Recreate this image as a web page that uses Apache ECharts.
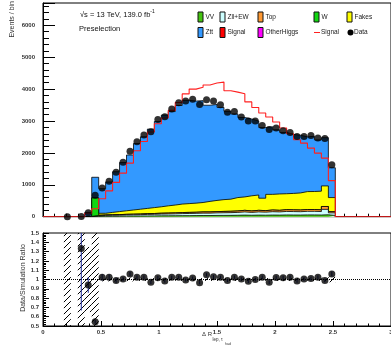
<!DOCTYPE html>
<html>
<head>
<meta charset="utf-8">
<script src="https://cdn.jsdelivr.net/npm/echarts@6/dist/echarts.min.js"></script>
<style>
  html, body { margin: 0; padding: 0; background: #fff; }
  #chart { width: 391px; height: 351px; }
</style>
</head>
<body>
<div id="chart"></div>
<script>
// binning of Delta R (lep, tau_had): 0.06 wide bins, first listed bin is 0.18-0.24
const binLow = 0.18;
const binWidth = 0.06;

// events per bin, bins 0.21 ... 2.49 (centres)
const dataCounts = [0, null, 4, 126, 675, 900, 1115, 1396, 1705, 2050,
  2350, 2565, 2664, 3045, 3135, 3375, 3570, 3630, 3680, 3515,
  3670, 3625, 3510, 3271, 3300, 3126, 3000, 3000, 2862, 2736,
  2780, 2695, 2642, 2516, 2516, 2547, 2466, 2453, 1626];

const vvCounts = [1, 0, 1, 3, 12, 14, 15, 16, 18, 20,
  21, 23, 25, 27, 28, 30, 32, 33, 35, 37,
  37, 40, 41, 42, 45, 50, 45, 50, 47, 52,
  50, 55, 53, 52, 56, 56, 53, 60, 40];
const zllCounts = [1, 0, 1, 3, 10, 27, 30, 33, 38, 40,
  43, 48, 50, 55, 58, 60, 65, 68, 70, 75,
  75, 80, 83, 85, 90, 100, 90, 100, 95, 105,
  100, 110, 108, 105, 112, 112, 108, 170, 80];
const topCounts = [0, 0, 0, 2, 8, 14, 15, 16, 19, 20,
  21, 24, 25, 28, 29, 30, 33, 34, 35, 38,
  38, 40, 41, 43, 45, 50, 45, 50, 48, 53,
  50, 55, 54, 53, 57, 57, 54, 90, 40];
const wCounts = [0, 0, 0, 0, 560, 0, 0, 0, 0, 0,
  0, 0, 0, 0, 0, 0, 0, 0, 0, 0,
  0, 0, 0, 0, 0, 0, 0, 0, 0, 0,
  0, 0, 0, 0, 0, 0, 0, 0, 0];
const fakesCounts = [0, 0, 0, 2, 0, 52, 75, 95, 110, 130,
  150, 165, 185, 200, 225, 245, 265, 275, 285, 295,
  330, 350, 370, 380, 420, 420, 475, 480, 390, 490,
  513, 500, 515, 535, 562, 565, 585, 645, 440];
const zttCounts = [1, 0, 1, 124, 646, 772, 954, 1250, 1512, 1724,
  2060, 2245, 2461, 2675, 2846, 2931, 3091, 3238, 3201, 3194,
  3015, 3009, 2893, 2754, 2623, 2490, 2406, 2320, 2215, 2121,
  2012, 1922, 1850, 1809, 1716, 1732, 1608, 1513, 934];

// signal (unstacked red line)
const signalCounts = [0, 0, 0, 107, 250, 565, 810, 1075, 1365, 1680,
  2066, 2359, 2654, 2915, 3095, 3334, 3580, 3850, 4000, 4060,
  4130, 4190, 4220, 3950, 3905, 3855, 3600, 3425, 3252, 3126,
  2969, 2780, 2601, 2412, 2308, 2151, 1994, 1837, 1132];

// relative MC stat uncertainty (hatched band in the ratio)
const mcRelErr = [1, 0, 1, 0.35, 1, 0.02, 0.02, 0.02, 0.015, 0.02,
  0.015, 0.015, 0.015, 0.015, 0.015, 0.015, 0.015, 0.015, 0.015, 0.015,
  0.015, 0.015, 0.015, 0.015, 0.015, 0.015, 0.015, 0.015, 0.015, 0.015,
  0.015, 0.015, 0.015, 0.015, 0.015, 0.015, 0.015, 0.02, 0.03];

const yTicksMain = { min: 0, max: 6700, interval: 1000 };
const yTicksRatio = { min: 0.5, max: 1.5, interval: 0.1 };

const FONT = '"Liberation Sans", Arial, Helvetica, sans-serif';

// stack from bottom to top
const stackDefs = [
  { name: 'VV', values: vvCounts, color: '#44c411' },
  { name: 'Zll+EW', values: zllCounts, color: '#ccffff' },
  { name: 'Top', values: topCounts, color: '#ff9933' },
  { name: 'W', values: wCounts, color: '#11d611' },
  { name: 'Fakes', values: fakesCounts, color: '#ffff00' },
  { name: 'Ztt', values: zttCounts, color: '#3399ff' }
];

const nBins = dataCounts.length;
const edge = i => +(binLow + i * binWidth).toFixed(4);
const centre = i => +(binLow + (i + 0.5) * binWidth).toFixed(4);

// cumulative sums, as THStack draws them
let running = new Array(nBins).fill(0);
const cumulative = stackDefs.map(s => (running = running.map((v, i) => v + s.values[i])));
const totalMC = cumulative[cumulative.length - 1];

// histogram outline points (drawn with step: 'end')
function stepPoints(vals, fromX, toX) {
  const pts = [[fromX !== undefined ? fromX : edge(0), 0]];
  vals.forEach((v, i) => pts.push([edge(i), v]));
  pts.push([edge(nBins), vals[nBins - 1]]);
  pts.push([edge(nBins), 0]);
  if (toX !== undefined) pts.push([toX, 0]);
  return pts;
}

const dataPoints = [];
const ratioPoints = [];
const ratioErrors = [];
const bandRects = [];
dataCounts.forEach((d, i) => {
  if (d !== null) dataPoints.push([centre(i), d]);
  if (d !== null && totalMC[i] > 0) {
    const r = d / totalMC[i];
    ratioPoints.push([centre(i), r]);
    const e = Math.sqrt(d) / totalMC[i];
    ratioErrors.push([centre(i), r - e, r + e]);
  }
  if (totalMC[i] > 0 && mcRelErr[i] > 0) {
    bandRects.push([edge(i), edge(i + 1), 1 - mcRelErr[i], 1 + mcRelErr[i]]);
  }
});

// diagonal hatch for the uncertainty band
function makeHatch() {
  const c = document.createElement('canvas');
  c.width = 6; c.height = 6;
  const g = c.getContext('2d');
  g.strokeStyle = '#000';
  g.lineWidth = 1;
  g.beginPath();
  g.moveTo(0, 6); g.lineTo(6, 0);
  g.moveTo(-1, 1); g.lineTo(1, -1);
  g.moveTo(5, 7); g.lineTo(7, 5);
  g.stroke();
  return c;
}
const hatch = { image: makeHatch(), repeat: 'repeat' };

const chart = echarts.init(document.getElementById('chart'));

const stackSeries = stackDefs.map((s, k) => ({
  name: s.name,
  type: 'line',
  xAxisIndex: 0,
  yAxisIndex: 0,
  step: 'end',
  symbol: 'none',
  silent: true,
  animation: false,
  z: 2 + (stackDefs.length - k),
  data: stepPoints(cumulative[k]),
  lineStyle: { color: '#000', width: 0.8 },
  areaStyle: { color: s.color, opacity: 1 }
})).reverse();

const axisText = { fontFamily: FONT, fontSize: 6, color: '#333', fontWeight: 'bold' };

const legendRows = [
  [
    { name: 'VV', color: '#44c411', x: 198 },
    { name: 'Zll+EW', color: '#ccffff', x: 220 },
    { name: 'Top', color: '#ff9933', x: 258 },
    { name: 'W', color: '#11d611', x: 314 },
    { name: 'Fakes', color: '#ffff00', x: 347 }
  ],
  [
    { name: 'Ztt', color: '#3399ff', x: 198 },
    { name: 'Signal', color: '#ff0000', x: 220 },
    { name: 'OtherHiggs', color: '#ff00ff', x: 258 }
  ]
];
const legendY = [12, 27.5];

const graphics = [];
legendRows.forEach((row, r) => {
  row.forEach(item => {
    graphics.push({
      type: 'rect', x: item.x, y: legendY[r], shape: { x: 0, y: 0, width: 5, height: 10 },
      style: { fill: item.color, stroke: '#111', lineWidth: 1 }
    });
    graphics.push({
      type: 'text', x: item.x + 7.5, y: legendY[r] + 5,
      style: { text: item.name, fontFamily: FONT, fontSize: 6.5, fill: '#222', align: 'left', verticalAlign: 'middle' }
    });
  });
});
graphics.push(
  { type: 'line', shape: { x1: 314, y1: 32.5, x2: 320, y2: 32.5 }, style: { stroke: '#ff2020', lineWidth: 1 } },
  { type: 'text', x: 321, y: 32.5, style: { text: 'Signal', fontFamily: FONT, fontSize: 6.5, fill: '#222', verticalAlign: 'middle' } },
  { type: 'circle', shape: { cx: 350.5, cy: 32.5, r: 3 }, style: { fill: '#000' } },
  { type: 'text', x: 354, y: 32.5, style: { text: 'Data', fontFamily: FONT, fontSize: 6.5, fill: '#222', verticalAlign: 'middle' } },
  {
    type: 'text', x: 80, y: 14,
    style: {
      text: '{a|√s = 13 TeV, 139.0 fb}{s|-1}',
      verticalAlign: 'middle',
      rich: {
        a: { fontFamily: FONT, fontSize: 7.5, fill: '#111', lineHeight: 10, verticalAlign: 'bottom' },
        s: { fontFamily: FONT, fontSize: 5, fill: '#111', lineHeight: 10, verticalAlign: 'top' }
      }
    }
  },
  { type: 'text', x: 79, y: 29, style: { text: 'Preselection', fontFamily: FONT, fontSize: 7.5, fill: '#111', verticalAlign: 'middle' } },
  { type: 'text', x: 12, y: 1, rotation: Math.PI / 2, style: { text: 'Events / bin', fontFamily: FONT, fontSize: 7, fill: '#333', align: 'right', verticalAlign: 'middle' } },
  { type: 'text', x: 23, y: 278, rotation: Math.PI / 2, style: { text: 'Data/Simulation Ratio', fontFamily: FONT, fontSize: 7, fill: '#333', align: 'center', verticalAlign: 'middle' } },
  { type: 'text', x: 202, y: 334.5, style: { text: 'Δ R', fontFamily: FONT, fontSize: 6, fill: '#333', verticalAlign: 'middle' } },
  { type: 'text', x: 212.5, y: 339.5, style: { text: 'lep, τ', fontFamily: FONT, fontSize: 4.5, fill: '#333', verticalAlign: 'middle' } },
  { type: 'text', x: 225, y: 344.5, style: { text: 'had', fontFamily: FONT, fontSize: 3.5, fill: '#333', verticalAlign: 'middle' } }
);

const option = {
  animation: false,
  backgroundColor: '#fff',
  grid: [
    { left: 43, right: 0, top: 3, height: 213.7, show: true, borderColor: '#000', borderWidth: 1, backgroundColor: 'transparent', outerBoundsMode: 'none', containLabel: false },
    { left: 43, right: 0, top: 233, height: 93, show: true, borderColor: '#000', borderWidth: 1, backgroundColor: 'transparent', outerBoundsMode: 'none', containLabel: false }
  ],
  xAxis: [
    {
      type: 'value', gridIndex: 0, min: 0, max: 3, interval: 0.5,
      axisLine: { lineStyle: { color: '#000', width: 1 } },
      axisTick: { inside: true, length: 6, lineStyle: { color: '#000' } },
      minorTick: { show: true, splitNumber: 5, length: 3, lineStyle: { color: '#000' } },
      axisLabel: { show: false },
      splitLine: { show: false }
    },
    {
      type: 'value', gridIndex: 1, min: 0, max: 3, interval: 0.5,
      axisLine: { lineStyle: { color: '#000', width: 1 } },
      axisTick: { inside: true, length: 5, lineStyle: { color: '#000' } },
      minorTick: { show: true, splitNumber: 5, length: 2.5, lineStyle: { color: '#000' } },
      axisLabel: Object.assign({ margin: 3, formatter: v => String(+v.toFixed(1)) }, axisText),
      splitLine: { show: false }
    }
  ],
  yAxis: [
    {
      type: 'value', gridIndex: 0, min: yTicksMain.min, max: yTicksMain.max, interval: yTicksMain.interval,
      axisLine: { lineStyle: { color: '#000', width: 1 } },
      axisTick: { inside: true, length: 12, lineStyle: { color: '#000' } },
      minorTick: { show: true, splitNumber: 5, length: 6, lineStyle: { color: '#000' } },
      axisLabel: Object.assign({ margin: 8, showMaxLabel: false, formatter: v => String(Math.round(v)) }, axisText),
      splitLine: { show: false }
    },
    {
      type: 'value', gridIndex: 1, min: yTicksRatio.min, max: yTicksRatio.max, interval: yTicksRatio.interval,
      axisLine: { lineStyle: { color: '#000', width: 1 } },
      axisTick: { inside: true, length: 6, lineStyle: { color: '#000' } },
      minorTick: { show: true, splitNumber: 5, length: 3, lineStyle: { color: '#000' } },
      axisLabel: Object.assign({ margin: 4, formatter: v => String(+v.toFixed(1)) }, axisText),
      splitLine: { show: false }
    }
  ],
  graphic: graphics,
  series: stackSeries.concat([
    {
      name: 'Signal line',
      type: 'line', xAxisIndex: 0, yAxisIndex: 0, step: 'end', symbol: 'none', silent: true, z: 20,
      data: stepPoints(signalCounts, 0, 3),
      lineStyle: { color: '#ff2020', width: 1.1 }
    },
    {
      name: 'Data',
      type: 'scatter', xAxisIndex: 0, yAxisIndex: 0, symbol: 'circle', symbolSize: 7, z: 21,
      itemStyle: { color: '#000' },
      data: dataPoints
    },
    {
      name: 'MC stat',
      type: 'custom', xAxisIndex: 1, yAxisIndex: 1, z: 3, silent: true,
      encode: { x: [0, 1], y: [2, 3] },
      data: bandRects,
      renderItem: (params, api) => {
        const p0 = api.coord([api.value(0), api.value(3)]);
        const p1 = api.coord([api.value(1), api.value(2)]);
        const cs = params.coordSys;
        const rect = echarts.graphic.clipRectByRect(
          { x: p0[0], y: p0[1], width: p1[0] - p0[0], height: p1[1] - p0[1] },
          { x: cs.x, y: cs.y, width: cs.width, height: cs.height }
        );
        return rect && { type: 'rect', shape: rect, style: { fill: hatch } };
      }
    },
    {
      name: 'Ratio errors',
      type: 'custom', xAxisIndex: 1, yAxisIndex: 1, z: 5, silent: true,
      encode: { x: 0, y: [1, 2] },
      data: ratioErrors,
      renderItem: (params, api) => {
        const cs = params.coordSys;
        const pts = echarts.graphic.clipPointsByRect(
          [api.coord([api.value(0), api.value(1)]), api.coord([api.value(0), api.value(2)])],
          { x: cs.x, y: cs.y, width: cs.width, height: cs.height }
        );
        return {
          type: 'line',
          shape: { x1: pts[0][0], y1: pts[0][1], x2: pts[1][0], y2: pts[1][1] },
          style: { stroke: '#1f2d9c', lineWidth: 1 }
        };
      }
    },
    {
      name: 'Ratio',
      type: 'scatter', xAxisIndex: 1, yAxisIndex: 1, symbol: 'circle', symbolSize: 7, z: 6,
      itemStyle: { color: '#000' },
      data: ratioPoints,
      markLine: {
        silent: true, symbol: ['none', 'none'], label: { show: false },
        lineStyle: { color: '#000', type: 'dotted', width: 1 },
        data: [{ yAxis: 1 }]
      }
    }
  ])
};

chart.setOption(option);
</script>
</body>
</html>
